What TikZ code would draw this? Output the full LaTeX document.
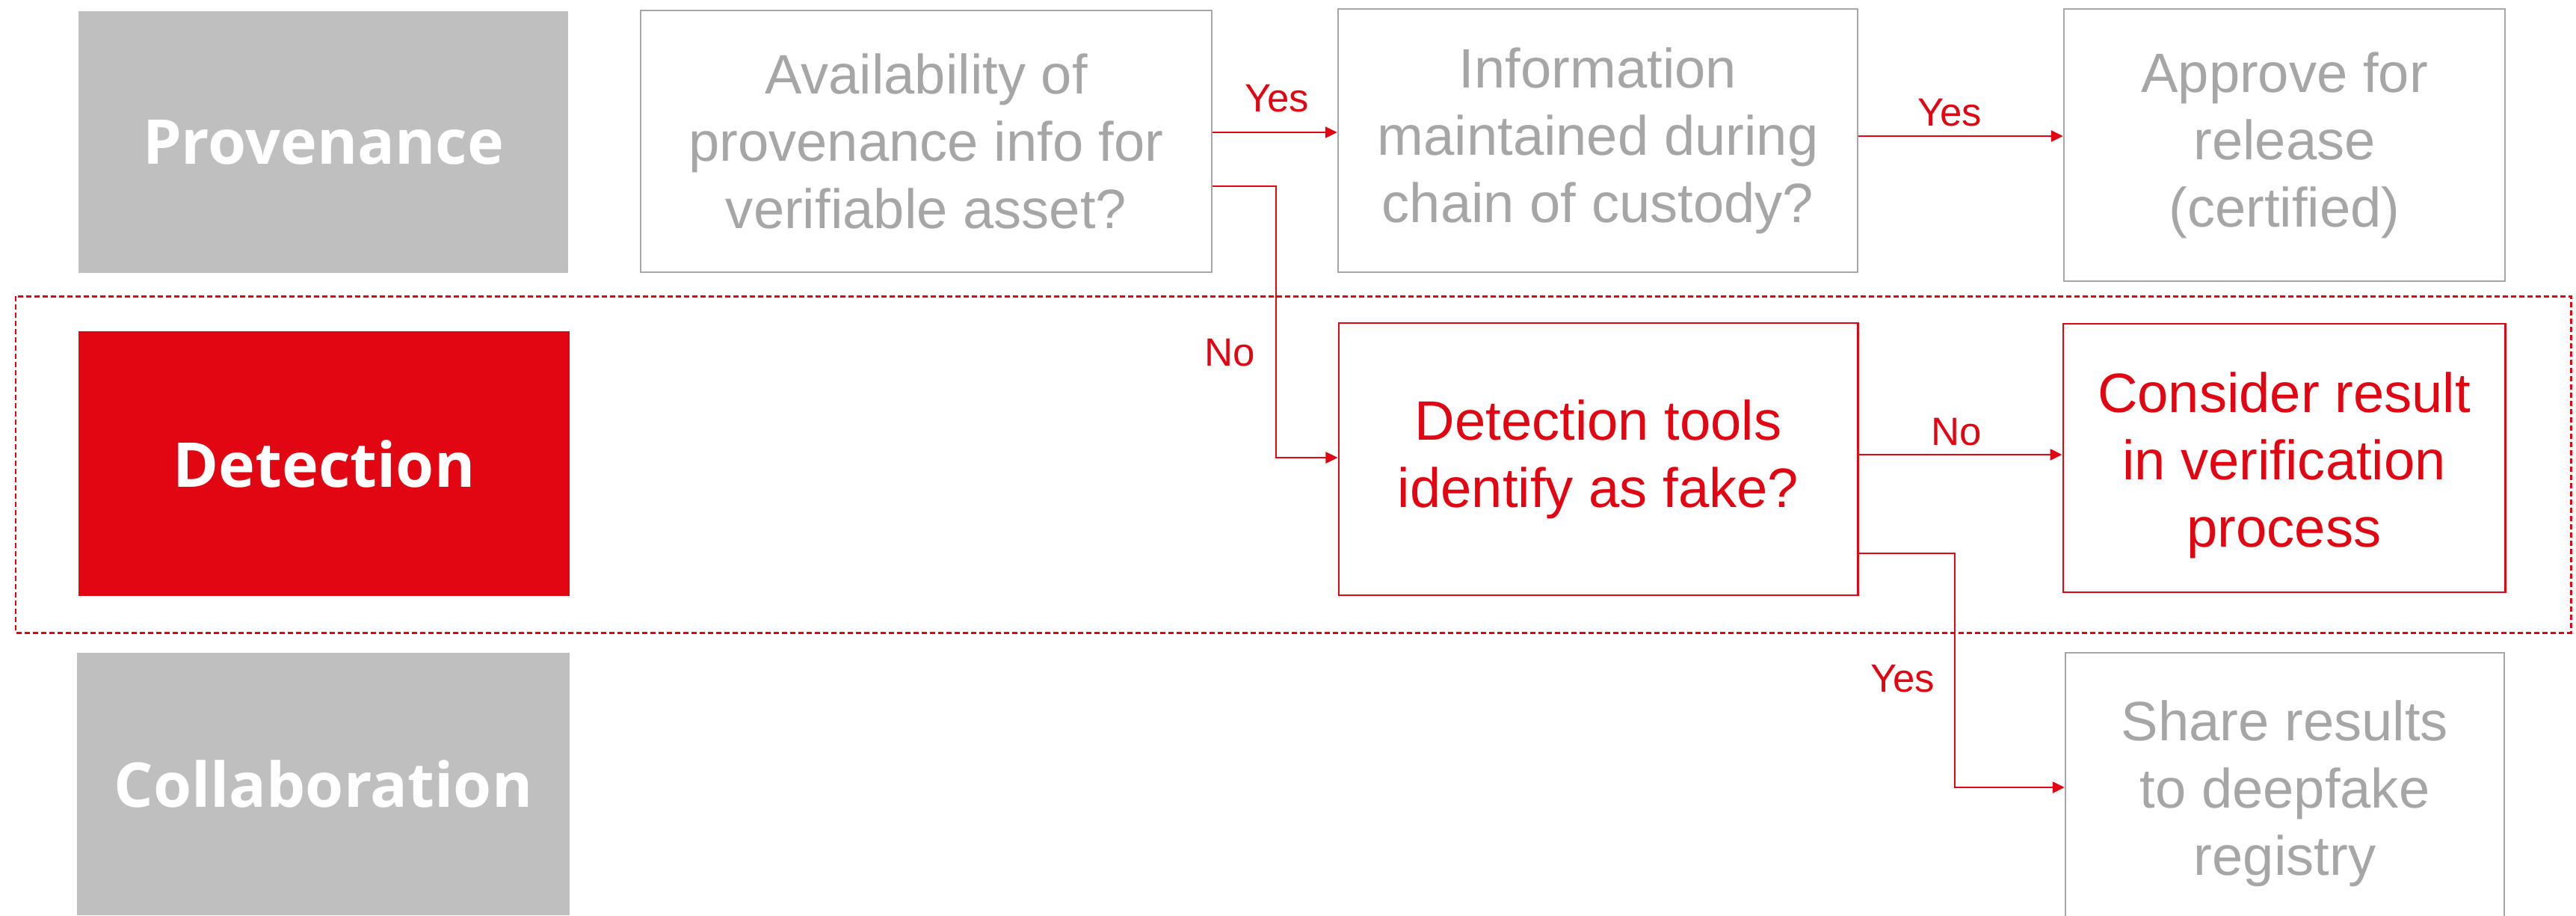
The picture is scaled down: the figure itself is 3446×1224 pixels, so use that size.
\documentclass[tikz,border=0pt]{standalone}
\usepackage{fontspec}
\setmainfont{Liberation Sans}
\newfontfamily\headfont[Ligatures=NoCommon]{Open Sans}
\usetikzlibrary{arrows.meta}
\definecolor{brandred}{HTML}{E20613}
\definecolor{panelgray}{HTML}{BFBFBF}
\definecolor{textgray}{HTML}{A6A6A6}
\tikzset{
  lane/.style={fill=panelgray, draw=none, text=white,
    font=\headfont\bfseries\fontsize{23.5}{28}\selectfont},
  activelane/.style={lane, fill=brandred},
  stepbox/.style={draw=textgray, line width=0.6pt, text=textgray, align=center,
    font=\fontsize{21.1}{25.6}\selectfont},
  hotbox/.style={stepbox, draw=brandred, line width=0.75pt, text=brandred},
  flow/.style={draw=brandred, line width=0.7pt,
    -{Triangle[length=0.16cm, width=0.15cm]}},
  choice/.style={text=brandred, font=\fontsize{15}{18}\selectfont, inner sep=0pt},
}
\begin{document}
\begin{tikzpicture}[x=0.01cm, y=-0.01cm]
\useasboundingbox (0,0) rectangle (3446,1224);
\clip (0,0) rectangle (3446,1224);

% detection band
\draw[brandred, line width=0.85pt, dash pattern=on 0.07cm off 0.04cm]
  (21,396) rectangle (3439,846);

% swim-lane headers
\node[lane, minimum width=6.55cm, minimum height=3.5cm] (prov) at (432.5,190) {Provenance};
\node[activelane, minimum width=6.57cm, minimum height=3.54cm] (det) at (433.5,620) {Detection};
\node[lane, minimum width=6.59cm, minimum height=3.51cm] (coll) at (432.5,1048.5) {Collaboration};

% process steps
\node[stepbox, minimum width=7.64cm, minimum height=3.5cm] (b1) at (1239,189)
  {Availability of\\provenance info for\\verifiable asset?};
\node[stepbox, minimum width=6.95cm, minimum height=3.52cm] (b2) at (2137.5,188)
  {Information\\maintained during\\chain of custody?};
\node[stepbox, minimum width=5.9cm, minimum height=3.64cm] (b3) at (3056,194)
  {Approve for\\release\\(certified)};
\node[hotbox, minimum width=6.94cm, minimum height=3.64cm] (b4) at (2138,614)
  {Detection tools\\identify as fake?};
\node[hotbox, minimum width=5.91cm, minimum height=3.59cm] (b5) at (3055.5,612.5) {};
\node[text=brandred, align=center, font=\fontsize{21.1}{25.6}\selectfont] (b5text)
  at (3055.5,622) {Consider result\\in verification\\process};
\node[stepbox, minimum width=5.87cm, minimum height=3.77cm] (b6) at (3056.5,1061.5)
  {Share results\\to deepfake\\registry};

% connectors
\draw[flow] (b1.east |- 0,177) -- (b2.west |- 0,177);
\draw[flow] (b2.east |- 0,182) -- (b3.west |- 0,182);
\draw[flow] (b1.east |- 0,249) -| (1707,612) -- (b4.west |- 0,612);
\draw[flow] (b4.east |- 0,608) -- (b5.west |- 0,608);
\draw[flow] (b4.east |- 0,740) -| (2615,1053) -- (b6.west |- 0,1053);

% branch labels
\node[choice] (y1) at (1708,132) {Yes};
\node[choice] (y2) at (2608,151) {Yes};
\node[choice] (n1) at (1645,472) {No};
\node[choice] (n2) at (2617,578) {No};
\node[choice] (y3) at (2545,908) {Yes};
\end{tikzpicture}
\end{document}
